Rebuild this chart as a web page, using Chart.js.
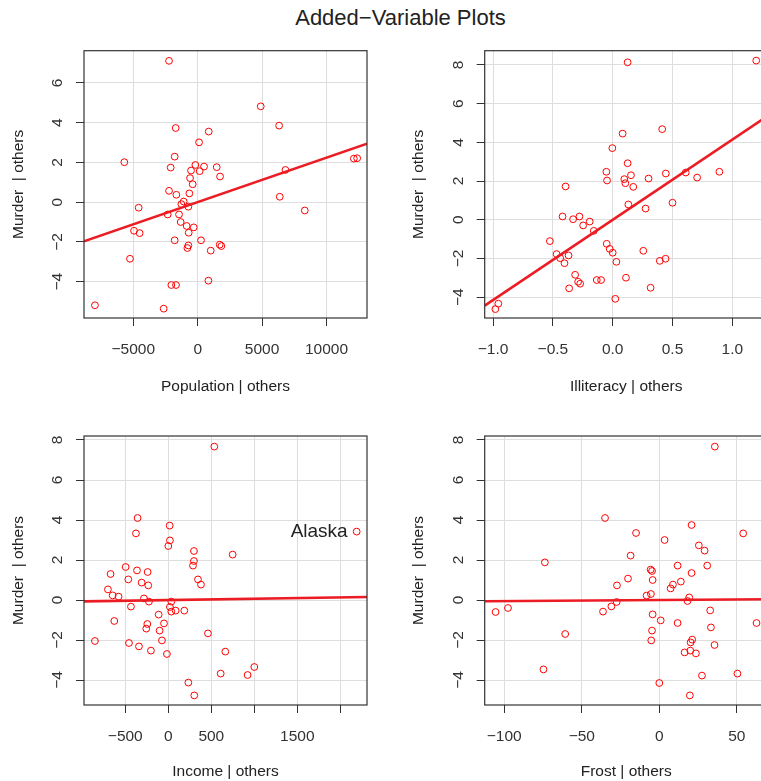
<!DOCTYPE html>
<html>
<head>
<meta charset="utf-8">
<script src="https://cdn.jsdelivr.net/npm/chart.js@4.4.1/dist/chart.umd.min.js"></script>
<style>
  html, body { margin: 0; padding: 0; background: #fff; overflow: hidden; }
  body { width: 761px; height: 781px; position: relative; }
  #title { position: absolute; left: 0; top: 5px; width: 801px; text-align: center;
           font: 22px "Liberation Sans", Arial, sans-serif; line-height: 26px; color: #222; }
  canvas { position: absolute; }
</style>
</head>
<body>
<div id="title">Added−Variable Plots</div>
<canvas id="pop" width="380" height="400" style="left:0;top:0"></canvas>
<canvas id="ill" width="400" height="400" style="left:380px;top:0"></canvas>
<canvas id="inc" width="380" height="381" style="left:0;top:400px"></canvas>
<canvas id="frost" width="400" height="381" style="left:380px;top:400px"></canvas>
<script>
// residuals (Murder | others vs each predictor | others)
const popX = [-2227, 4895, 6320, -1709, 855, 104, -1787, -5698, 12121, 12380,
  -2098, -181, 492, 1476, -518, 155, 6812, -596, 1735, -389,
  -2227, -1658, -648, 6371, -1088, -1269, -725, -4584, 8314, -2331,
  -1450, -1321, -855, -311, -4947, -4507, -699, -1787, 259, -725,
  -803, 1709, 1839, 1010, -5258, 829, -2046, -1684, -7977, -2642];
const popY = [7.11, 4.82, 3.85, 3.73, 3.55, 3.01, 2.29, 2.01, 2.19, 2.21,
  1.74, 1.87, 1.79, 1.76, 1.59, 1.56, 1.62, 1.21, 1.29, 0.90,
  0.57, 0.37, 0.44, 0.27, 0.03, -0.10, -0.23, -0.28, -0.42, -0.62,
  -0.62, -1.00, -1.20, -1.27, -1.44, -1.56, -1.54, -1.92, -1.92, -2.18,
  -2.31, -2.14, -2.21, -2.44, -2.85, -3.95, -4.17, -4.17, -5.19, -5.36];

const illX = [0.125, 1.20, 0.414, 0.083, -0.003, 0.125, -0.053, 0.611, 0.444, 0.892,
  0.153, 0.706, 0.300, 0.097, -0.047, 0.106, -0.394, 0.172, 0.500, 0.131,
  0.275, -0.419, -0.278, -0.331, -0.192, -0.247, -0.158, -0.525, -0.050, -0.025,
  0.000, -0.469, -0.369, -0.439, 0.256, 0.031, -0.403, 0.394, 0.442, -0.314,
  -0.289, -0.272, -0.133, -0.097, 0.111, -0.364, 0.317, 0.022, -0.956, -0.981];
const illY = [8.13, 8.22, 4.68, 4.45, 3.70, 2.92, 2.48, 2.44, 2.39, 2.48,
  2.30, 2.18, 2.13, 2.10, 2.03, 1.89, 1.72, 1.70, 0.88, 0.79,
  0.58, 0.17, 0.17, 0.03, -0.09, -0.29, -0.57, -1.10, -1.24, -1.50,
  -1.70, -1.77, -1.84, -1.98, -1.60, -2.17, -2.24, -2.12, -2.01, -2.84,
  -3.20, -3.30, -3.11, -3.11, -2.99, -3.54, -3.51, -4.08, -4.33, -4.61];

const incX = [535, 2190, -357, 16, -376, 19, 0, 298, 748, 298,
  287, -496, -364, -240, -671, -465, 345, -310, -233, 380,
  -702, -647, -578, -283, -225, 35, 19, 35, 85, 186,
  -434, -112, -50, -628, -244, -256, -101, 461, -74, -853,
  -457, -341, -202, -16, 663, 609, 922, 1000, 233, 302];
const incY = [7.67, 3.42, 4.10, 3.72, 3.33, 2.98, 2.70, 2.45, 2.27, 1.95,
  1.72, 1.65, 1.48, 1.40, 1.30, 1.03, 1.03, 0.87, 0.73, 0.77,
  0.53, 0.23, 0.17, 0.08, -0.08, -0.08, -0.35, -0.58, -0.53, -0.53,
  -0.33, -0.73, -1.17, -1.05, -1.20, -1.43, -1.53, -1.67, -2.02, -2.05,
  -2.15, -2.32, -2.53, -2.70, -2.58, -3.68, -3.75, -3.35, -4.13, -4.77];

const frostX = [35.8, -35.0, 20.8, 54.1, -15.0, 3.4, 25.5, 29.2, -73.8, -18.5,
  11.8, 30.9, -5.6, -4.7, 20.8, -20.2, -4.3, 13.9, 8.8, 7.3,
  -27.3, -5.4, -8.2, 19.3, 18.2, -27.5, -30.9, -36.3, -105.6, -97.6,
  -4.3, 32.8, 0.9, 11.8, 62.7, 33.3, -4.7, -60.7, -5.2, 21.2,
  20.2, 35.6, 16.3, 20.0, 23.6, -74.7, 50.4, 27.5, 0.0, 19.7];
const frostY = [7.67, 4.10, 3.75, 3.33, 3.35, 3.00, 2.73, 2.47, 1.88, 2.22,
  1.72, 1.72, 1.52, 1.45, 1.35, 1.07, 1.00, 0.92, 0.77, 0.58,
  0.73, 0.30, 0.22, 0.13, -0.05, -0.10, -0.32, -0.58, -0.60, -0.40,
  -0.72, -0.52, -1.02, -1.15, -1.15, -1.37, -1.53, -1.70, -2.02, -1.98,
  -2.12, -2.25, -2.62, -2.53, -2.67, -3.47, -3.68, -3.78, -4.15, -4.77];

// least squares lines, end points at the plot edges
const popFitX = [-8830, 13150];
const popFitY = [-1.97, 2.94];
const illFitX = [-1.07, 1.30];
const illFitY = [-4.43, 5.38];
const incFitX = [-980, 2310];
const incFitY = [-0.07, 0.15];
const frostFitX = [-112.6, 70];
const frostFitY = [-0.065, 0.04];

const popTicks = [-5000, 0, 5000, 10000];
const illTicks = [-1.0, -0.5, 0.0, 0.5, 1.0];
const incTicks = [-500, 0, 500, 1000, 1500, 2000];
const incShown = [-500, 0, 500, 1500];
const frostTicks = [-100, -50, 0, 50];
const yTicksTop = [-4, -2, 0, 2, 4, 6];
const yTicks = [-4, -2, 0, 2, 4, 6, 8];

const pointLabels = ['Alaska'];
const pointLabelX = [2190];
const pointLabelY = [3.42];

const FONT = '"Liberation Sans", Arial, sans-serif';
const minus = s => String(s).replace('-', '\u2212');

const framePlugin = {
  id: 'frame',
  afterDraw(chart) {
    const { ctx, chartArea: a, scales } = chart;
    const o = chart.options.plugins.frame;
    ctx.save();
    ctx.strokeStyle = '#333';
    ctx.lineWidth = 1.2;
    ctx.strokeRect(a.left, a.top, a.right - a.left, a.bottom - a.top);
    // y tick labels, parallel to the axis like R does
    ctx.fillStyle = '#333';
    ctx.font = '15.5px ' + FONT;
    ctx.textAlign = 'center';
    ctx.textBaseline = 'middle';
    scales.y.ticks.forEach(t => {
      ctx.save();
      ctx.translate(a.left - 26, scales.y.getPixelForValue(t.value));
      ctx.rotate(-Math.PI / 2);
      ctx.fillText(minus(t.value), 0, 0);
      ctx.restore();
    });
    if (o.labels) {
      ctx.font = '19px ' + FONT;
      ctx.fillStyle = '#222';
      ctx.textAlign = 'right';
      o.labels.text.forEach((s, i) => {
        const px = scales.x.getPixelForValue(o.labels.x[i]);
        const py = scales.y.getPixelForValue(o.labels.y[i]);
        ctx.fillText(s, px - 9, py);
      });
    }
    ctx.restore();
  }
};

function makePanel(id, p) {
  const pts = p.xs.map((x, i) => ({ x: x, y: p.ys[i] }));
  const fit = p.fitX.map((x, i) => ({ x: x, y: p.fitY[i] }));
  new Chart(document.getElementById(id), {
    type: 'scatter',
    data: {
      datasets: [
        { data: fit, showLine: true, borderColor: '#ec1c24', borderWidth: 2.6, pointRadius: 0 },
        { data: pts, pointRadius: 3.4, borderWidth: 1, borderColor: '#ff0000', backgroundColor: 'rgba(0,0,0,0)' }
      ]
    },
    options: {
      responsive: false,
      animation: false,
      events: [],
      layout: { padding: { top: p.padTop, right: p.padRight, left: 0, bottom: 0 } },
      plugins: {
        legend: { display: false },
        tooltip: { enabled: false },
        frame: { labels: p.labels }
      },
      scales: {
        x: {
          type: 'linear', min: p.xMin, max: p.xMax,
          afterBuildTicks: s => { s.ticks = p.xTicks.map(v => ({ value: v })); },
          afterFit: s => { s.height = p.xH; },
          grid: { color: '#dedede', lineWidth: 1, tickColor: '#333', tickLength: 8, tickWidth: 1 },
          border: { display: false },
          ticks: { autoSkip: false, maxRotation: 0, padding: 14, color: '#333',
                   font: { family: FONT, size: 15.5 }, callback: p.xFmt },
          title: { display: true, text: p.xTitle, color: '#222',
                   font: { family: FONT, size: 15.5 }, padding: { top: 0, bottom: p.xTitlePad } }
        },
        y: {
          type: 'linear', min: p.yMin, max: p.yMax,
          afterBuildTicks: s => { s.ticks = p.yTicks.map(v => ({ value: v })); },
          afterFit: s => { s.width = p.yW; },
          grid: { color: '#dedede', lineWidth: 1, tickColor: '#333', tickLength: 8, tickWidth: 1 },
          border: { display: false },
          ticks: { display: false },
          title: { display: true, text: 'Murder  | others', color: '#222',
                   font: { family: FONT, size: 15.5 }, padding: { top: p.yTitlePad, bottom: 0 } }
        }
      }
    },
    plugins: [framePlugin]
  });
}

makePanel('pop', {
  xs: popX, ys: popY, fitX: popFitX, fitY: popFitY,
  xMin: -8828, xMax: 13144, yMin: -5.83, yMax: 7.62,
  xTicks: popTicks, yTicks: yTicksTop, xFmt: v => minus(v),
  xTitle: 'Population | others',
  padTop: 50.7, padRight: 13, yW: 84, xH: 82, xTitlePad: 4, yTitlePad: 9
});
makePanel('ill', {
  xs: illX, ys: illY, fitX: illFitX, fitY: illFitY,
  xMin: -1.07, xMax: 1.296, yMin: -5.07, yMax: 8.73,
  xTicks: illTicks, yTicks: yTicks, xFmt: v => minus(Number(v).toFixed(1)),
  xTitle: 'Illiteracy | others',
  padTop: 50.7, padRight: 12.3, yW: 104.7, xH: 82, xTitlePad: 4, yTitlePad: 29
});
makePanel('inc', {
  xs: incX, ys: incY, fitX: incFitX, fitY: incFitY,
  xMin: -980, xMax: 2310, yMin: -5.25, yMax: 8.2,
  xTicks: incTicks, yTicks: yTicks, xFmt: v => incShown.includes(v) ? minus(v) : '',
  xTitle: 'Income | others',
  padTop: 36, padRight: 13, yW: 84, xH: 76, xTitlePad: 0, yTitlePad: 9,
  labels: { text: pointLabels, x: pointLabelX, y: pointLabelY }
});
makePanel('frost', {
  xs: frostX, ys: frostY, fitX: frostFitX, fitY: frostFitY,
  xMin: -112.6, xMax: 69.9, yMin: -5.25, yMax: 8.2,
  xTicks: frostTicks, yTicks: yTicks, xFmt: v => minus(v),
  xTitle: 'Frost | others',
  padTop: 36, padRight: 12.3, yW: 104.7, xH: 76, xTitlePad: 0, yTitlePad: 29
});
</script>
</body>
</html>
